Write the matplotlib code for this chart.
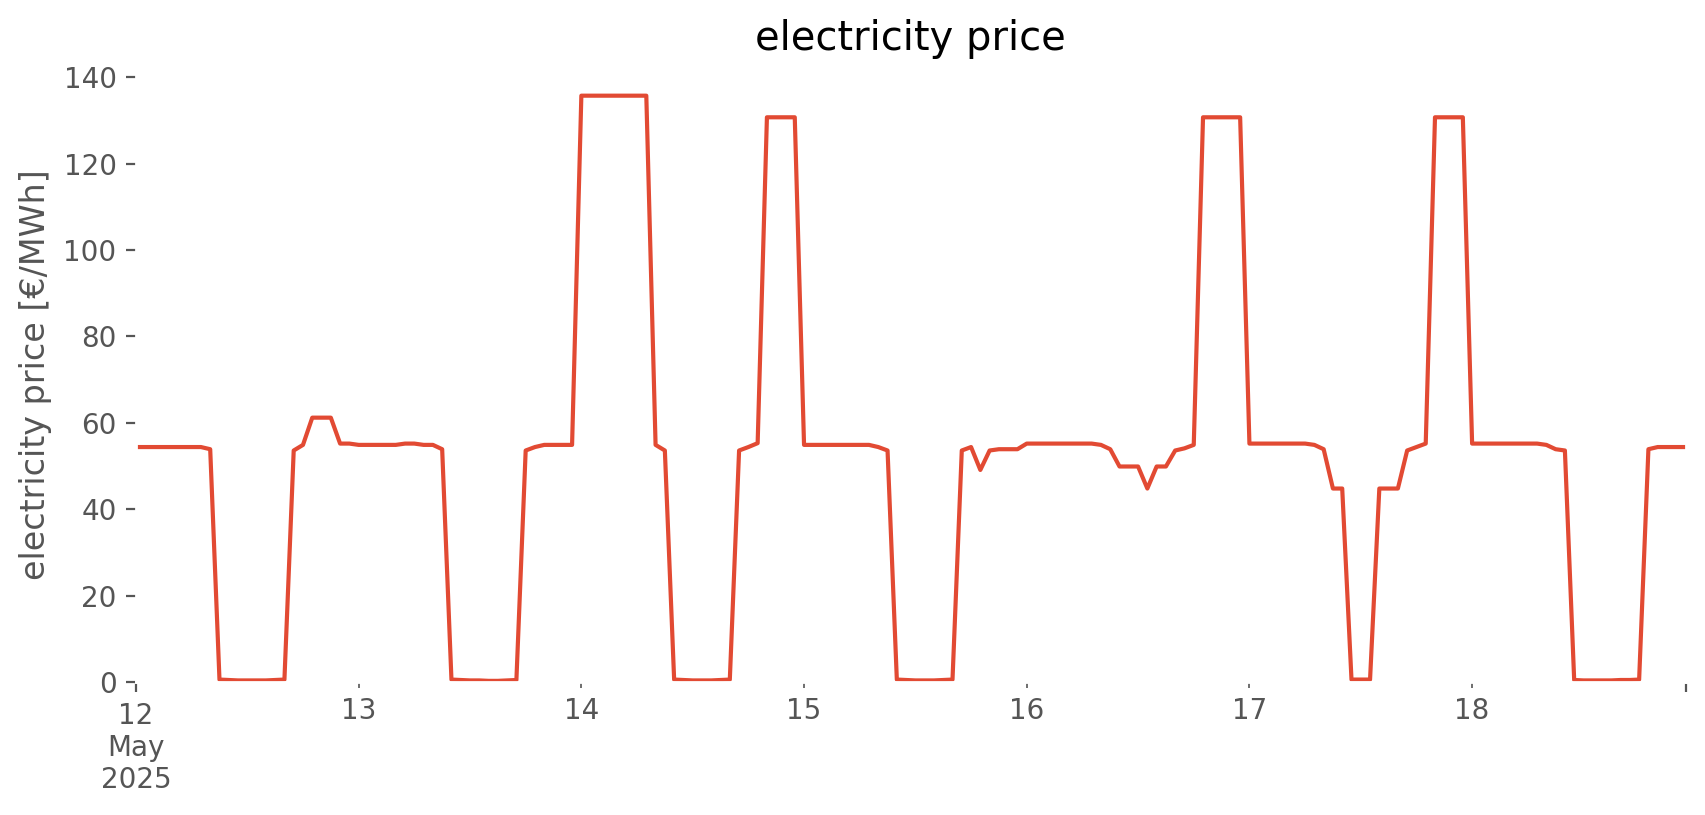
import pandas as pd
import matplotlib
matplotlib.use("Agg")
import matplotlib.pyplot as plt

# hourly day-ahead price, 12-18 May 2025 [EUR/MWh]
start = "2025-05-12 00:00"
day_12 = [54.4] * 8 + [53.9] + [0.6, 0.5, 0.4, 0.4, 0.4, 0.4, 0.5, 0.6] + [53.6, 54.9, 61.2, 61.2, 61.2, 55.2, 55.2]
day_13 = [54.9] * 5 + [55.2, 55.2, 54.9, 54.9, 53.9] + [0.6, 0.5, 0.4, 0.4, 0.3, 0.3, 0.4, 0.5] + [53.6, 54.4] + [54.9] * 4
day_14 = [135.7] * 8 + [54.9, 53.6] + [0.6, 0.5, 0.4, 0.4, 0.4, 0.5, 0.6] + [53.6, 54.4, 55.3] + [130.7] * 4
day_15 = [54.9] * 8 + [54.4, 53.6] + [0.6, 0.5, 0.4, 0.4, 0.4, 0.5, 0.6] + [53.6, 54.4, 49.1, 53.6, 53.9, 53.9, 53.9]
day_16 = [55.2] * 8 + [54.9, 53.9, 49.9, 49.9, 49.9, 44.8, 49.9, 49.9, 53.6, 54.1, 54.9] + [130.7] * 5
day_17 = [55.2] * 7 + [54.9, 53.9, 44.8, 44.8] + [0.6, 0.6, 0.6] + [44.8, 44.8, 44.8, 53.6, 54.4, 55.2] + [130.7] * 4
day_18 = [55.2] * 8 + [54.9, 53.9, 53.6] + [0.5, 0.4, 0.4, 0.4, 0.4, 0.5, 0.5, 0.6] + [53.9] + [54.4] * 4

price = day_12 + day_13 + day_14 + day_15 + day_16 + day_17 + day_18
index = pd.date_range(start, periods=len(price), freq="h")
series = pd.Series(price, index=index, name="electricity price")

plt.style.use("ggplot")

fig, ax = plt.subplots(figsize=(8.53, 4.075), dpi=200)
series.plot(ax=ax, color="#E24A33", linewidth=1.5)

ax.set_facecolor("white")
ax.grid(False)
ax.set_ylim(bottom=0)
ax.set_xlabel("")
ax.set_ylabel("electricity price [€/MWh]")
ax.set_title("electricity price", color="black")

fig.subplots_adjust(left=0.0797, right=0.988, bottom=0.163, top=0.9185)
fig.savefig("out.png", dpi=200, facecolor="white")
